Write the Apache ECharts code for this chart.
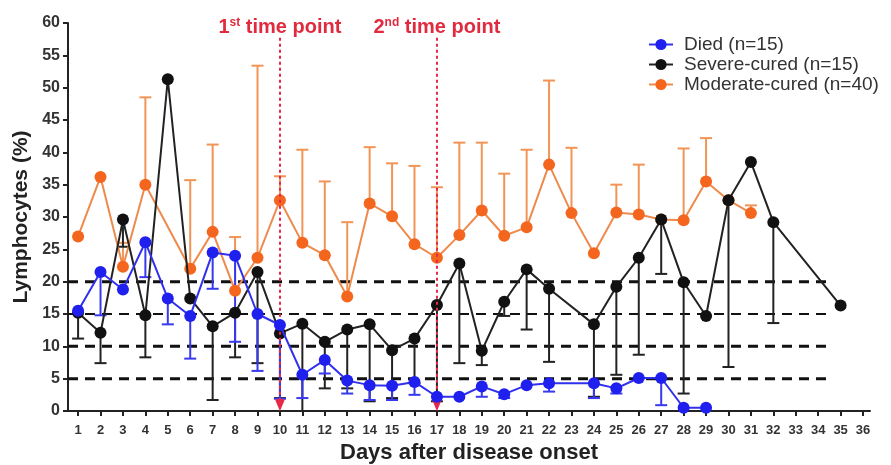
<!DOCTYPE html>
<html><head><meta charset="utf-8">
<script src="https://cdn.jsdelivr.net/npm/echarts@6/dist/echarts.min.js"></script>
<style>html,body{margin:0;padding:0;background:#fff}#c{width:891px;height:465px}</style>
</head><body><div id="c"></div>
<script>
const days = [1,2,3,4,5,6,7,8,9,10,11,12,13,14,15,16,17,18,19,20,21,22,23,24,25,26,27,28,29,30,31,32,33,34,35,36];
const yTicks = [0,5,10,15,20,25,30,35,40,45,50,55,60];
const died = [15.5,21.5,18.8,26.1,17.4,14.7,24.5,24.0,15.0,13.3,5.6,7.9,4.7,4.0,3.9,4.5,2.2,2.2,3.8,2.6,4.0,4.3,null,4.3,3.5,5.1,5.1,0.5,0.5,null,null,null,null,null,null,null];
const diedLower = [null,14.8,null,20.7,13.4,8.1,18.9,10.7,6.2,1.9,2.0,5.8,2.7,1.7,1.7,2.5,null,null,2.2,2.0,null,3.0,null,2.0,2.7,null,0.9,null,null,null,null,null,null,null,null,null];
const severe = [15.2,12.1,29.6,14.8,51.3,17.4,13.1,15.2,21.5,12.0,13.5,10.7,12.6,13.4,9.4,11.2,16.4,22.8,9.3,16.9,21.9,18.9,null,13.4,19.2,23.7,29.6,19.9,14.7,32.6,38.5,29.2,null,null,16.3,null];
const severeLower = [11.2,7.4,25.4,8.3,null,null,1.7,8.3,7.4,2.0,0,3.5,3.5,1.5,2.0,4.3,1.5,7.4,7.1,14.7,12.6,7.6,null,2.2,5.6,8.7,21.2,2.7,null,6.8,null,13.6,null,null,null,null];
const moderate = [27.0,36.2,22.3,35.0,null,22.0,27.7,18.6,23.7,32.6,26.0,24.1,17.7,32.1,30.1,25.8,23.7,27.2,31.0,27.1,28.4,38.1,30.6,24.4,30.7,30.4,29.6,29.5,35.5,32.6,30.6,null,null,null,null,null];
const moderateUpper = [null,null,26.0,48.5,null,35.7,41.2,26.9,53.4,36.3,40.4,35.5,29.2,40.8,38.3,37.9,34.6,41.5,41.5,36.7,40.4,51.1,40.7,null,35.0,38.1,null,40.6,42.2,null,31.8,null,null,null,null,null];
const refLevels = [5,10,15,20];
const refWidths = [3,3,2,3];
const refEnd = 34.35;
const timePoints = [10,17];
const timeLabels = ['{a|1}{s|st}{a| time point}','{a|2}{s|nd}{a| time point}'];
const names = ['Died (n=15)','Severe-cured (n=15)','Moderate-cured (n=40)'];

const X_MIN = 0.55, X_MAX = 36.31;
const FONT = "'Liberation Sans', Arial, sans-serif";
const C_BLUE = '#1f1fee', C_BLACK = '#111111', C_OR = '#f4661e', C_OR_LINE = '#ee8a4c';

function pairs(vals){ return days.map((d,i)=>[d, vals[i]]); }
function errData(vals, ends){
  const out = [];
  days.forEach((d,i)=>{ if(vals[i]!=null && ends[i]!=null) out.push([d, vals[i], ends[i]]); });
  return out;
}
function errRender(color){
  return function(params, api){
    const p1 = api.coord([api.value(0), api.value(1)]);
    const p2 = api.coord([api.value(0), api.value(2)]);
    const h = 6;
    return {type:'group', children:[
      {type:'line', shape:{x1:p1[0],y1:p1[1],x2:p2[0],y2:p2[1]}, style:{stroke:color,lineWidth:2}},
      {type:'line', shape:{x1:p2[0]-h,y1:p2[1],x2:p2[0]+h,y2:p2[1]}, style:{stroke:color,lineWidth:2}}
    ]};
  };
}

const chart = echarts.init(document.getElementById('c'));
chart.setOption({
  animation:false,
  textStyle:{fontFamily:FONT},
  grid:{left:68,right:21,top:23,bottom:54,containLabel:false,outerBoundsMode:'none'},
  legend:{
    data:names, orient:'vertical', left:643, top:30, itemWidth:24, itemHeight:14, itemGap:1,
    textStyle:{fontSize:19,color:'#333',fontFamily:FONT,padding:[0,0,0,6]}
  },
  xAxis:{
    type:'value', min:X_MIN, max:X_MAX,
    name:'Days after disease onset', nameLocation:'middle', nameGap:30,
    nameTextStyle:{fontSize:22,fontWeight:'bold',color:'#222',fontFamily:FONT},
    axisLine:{show:true,onZero:false,lineStyle:{color:'#222',width:2}},
    axisTick:{show:true,length:5,lineStyle:{color:'#222',width:2},customValues:days},
    axisLabel:{fontSize:13,fontWeight:'bold',color:'#333',margin:13,customValues:days,fontFamily:FONT},
    splitLine:{show:false}
  },
  yAxis:{
    type:'value', min:0, max:60, interval:5,
    name:'Lymphocytes (%)', nameLocation:'middle', nameGap:36,
    nameTextStyle:{fontSize:21,fontWeight:'bold',color:'#222',fontFamily:FONT},
    axisLine:{show:true,lineStyle:{color:'#222',width:2}},
    axisTick:{show:true,length:5,lineStyle:{color:'#222',width:2}},
    axisLabel:{fontSize:16,fontWeight:'bold',color:'#333',margin:8,fontFamily:FONT},
    splitLine:{show:false}
  },
  series:[
    {
      type:'custom', name:'ref', z:1, silent:true,
      data:refLevels.map((v,i)=>[v, refWidths[i]]),
      encode:{y:0},
      renderItem:function(params, api){
        const a = api.coord([X_MIN, api.value(0)]);
        const b = api.coord([refEnd, api.value(0)]);
        return {type:'line', shape:{x1:a[0],y1:a[1],x2:b[0],y2:b[1]},
          style:{stroke:'#111',lineWidth:api.value(1),lineDash:[10,7]}};
      },
      markLine:{
        silent:true, symbol:['none','triangle'], symbolSize:[10,12],
        lineStyle:{color:'#e8284a',width:2,type:[3,3]},
        label:{show:true,position:'start',distance:0,color:'#e22a3e',
          rich:{a:{fontSize:20,fontWeight:'bold',color:'#e22a3e',fontFamily:FONT},
                s:{fontSize:12,fontWeight:'bold',color:'#e22a3e',fontFamily:FONT,padding:[0,0,9,0]}}},
        data:timePoints.map((t,i)=>[{coord:[t,57.7],label:{formatter:timeLabels[i]}},{coord:[t,0.9]}])
      }
    },
    {type:'custom', name:'errOr', z:2, silent:true, renderItem:errRender('#f29455'), encode:{x:0,y:[1,2]}, data:errData(moderate, moderateUpper)},
    {type:'custom', name:'errBlack', z:2, silent:true, renderItem:errRender('#222'), encode:{x:0,y:[1,2]}, data:errData(severe, severeLower)},
    {type:'custom', name:'errBlue', z:2, silent:true, renderItem:errRender('#3838ee'), encode:{x:0,y:[1,2]}, data:errData(died, diedLower)},
    {type:'line', name:names[2], z:3, data:pairs(moderate), connectNulls:true, symbol:'circle', symbolSize:12,
      itemStyle:{color:C_OR}, lineStyle:{color:C_OR_LINE,width:2}},
    {type:'line', name:names[1], z:4, data:pairs(severe), connectNulls:true, symbol:'circle', symbolSize:12,
      itemStyle:{color:C_BLACK}, lineStyle:{color:'#222',width:2}},
    {type:'line', name:names[0], z:5, data:pairs(died), connectNulls:true, symbol:'circle', symbolSize:12,
      itemStyle:{color:C_BLUE}, lineStyle:{color:'#3030ee',width:2}}
  ]
});
</script></body></html>
